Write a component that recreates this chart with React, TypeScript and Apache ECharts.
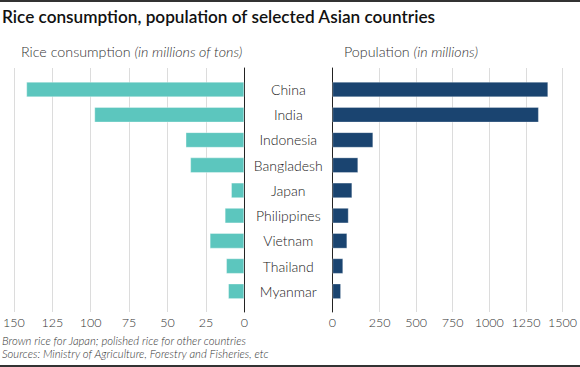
import React, { useEffect, useRef } from "react";
import * as echarts from "echarts";

const countries = ["China", "India", "Indonesia", "Bangladesh", "Japan", "Philippines", "Vietnam", "Thailand", "Myanmar"];
const riceConsumption = [141, 97, 38, 35, 8.6, 12.7, 22.4, 11.8, 10.5];
const population = [1380, 1320, 262, 166, 128, 105, 96, 70, 56];
const riceTickInterval = 25;
const riceMax = 150;
const popTickValues = [250, 500, 750, 1000, 1250, 1500];
const popZeroLabel = [0];
const notes = [
  "Brown rice for Japan; polished rice for other countries",
  "Sources: Ministry of Agriculture, Forestry and Fisheries, etc",
];

const FONT = "Lato, 'Noto Sans', sans-serif";
const TEAL = "#5cc6be";
const NAVY = "#1a4470";

export default function App() {
  const ref = useRef<HTMLDivElement>(null);
  useEffect(() => {
    if (!ref.current) return;
    const chart = echarts.init(ref.current, undefined, { renderer: "svg" });
    const tickLabel = {
      color: "#333",
      fontSize: 12.5,
      fontFamily: FONT,
      fontWeight: 300 as any,
      formatter: (v: number) => String(v),
    };
    const sub = { fontSize: 14.3, fontFamily: FONT, fill: "#333", fontWeight: 300 };
    chart.setOption({
      animation: false,
      backgroundColor: "#fff",
      textStyle: { fontFamily: FONT },
      title: [
        {
          text: "Rice consumption, population of selected Asian countries",
          left: 2,
          top: 8,
          padding: 0,
          textStyle: { fontSize: 17.2, fontWeight: 600, color: "#111", fontFamily: FONT },
        },
      ],
      graphic: [
        { type: "line", shape: { x1: 0, y1: 1, x2: 580, y2: 1 }, style: { stroke: "#333", lineWidth: 2 } },
        { type: "line", shape: { x1: 0, y1: 366, x2: 580, y2: 366 }, style: { stroke: "#333", lineWidth: 2 } },
        {
          type: "text",
          left: 21,
          top: 44,
          style: {
            text: "{n|Rice consumption }{i|(in millions of tons)}",
            rich: { n: sub, i: { ...sub, fontStyle: "italic" } },
          },
        },
        {
          type: "text",
          left: 344,
          top: 44,
          style: {
            text: "{n|Population }{i|(in millions)}",
            rich: { n: sub, i: { ...sub, fontStyle: "italic" } },
          },
        },
        ...notes.map((t, i) => ({
          type: "text",
          left: 2,
          top: 334.5 + i * 13.6,
          style: {
            text: t,
            fontSize: 11.3,
            fontStyle: "italic",
            fontFamily: FONT,
            fill: "#333",
            fontWeight: 300,
          },
        })),
      ],
      grid: [
        { left: 12.3, top: 68, width: 232, height: 244 },
        { left: 12.3, top: 76.9, width: 232, height: 227 },
        { left: 332.3, top: 68, width: 237.7, height: 244 },
        { left: 332.3, top: 76.9, width: 237.7, height: 227 },
      ],
      xAxis: [
        {
          gridIndex: 0,
          type: "value",
          inverse: true,
          min: 0,
          max: riceMax,
          interval: riceTickInterval,
          axisLine: { show: false },
          axisTick: { show: false },
          splitLine: { show: true, lineStyle: { color: "#dcdcdc", width: 1 } },
          axisLabel: { ...tickLabel, margin: 4 },
        },
        { gridIndex: 1, type: "value", inverse: true, min: 0, max: riceMax, show: false },
        {
          gridIndex: 2,
          type: "value",
          min: -72.6,
          max: 1525,
          axisLine: { show: false },
          axisTick: { show: false, customValues: popTickValues },
          splitLine: { show: true, lineStyle: { color: "#dcdcdc", width: 1 } },
          axisLabel: { ...tickLabel, margin: 4, customValues: popTickValues },
        },
        {
          gridIndex: 3,
          type: "value",
          min: 0,
          max: 237.7 / 0.1565,
          axisLine: { show: false },
          axisTick: { show: false },
          splitLine: { show: false },
          axisLabel: { ...tickLabel, margin: 4 + 8.1, customValues: popZeroLabel },
        },
      ],
      yAxis: [
        {
          gridIndex: 0,
          type: "value",
          position: "right",
          min: 0,
          max: 1,
          axisLine: { show: true, onZero: false, lineStyle: { color: "#222", width: 1 } },
          axisTick: { show: false },
          axisLabel: { show: false },
          splitLine: { show: false },
        },
        {
          gridIndex: 1,
          type: "category",
          data: countries,
          inverse: true,
          position: "right",
          axisLine: { show: false },
          axisTick: { show: false },
          axisLabel: { color: "#222", fontSize: 14, fontWeight: 300, fontFamily: FONT, align: "center", margin: 44 },
        },
        {
          gridIndex: 2,
          type: "value",
          position: "left",
          min: 0,
          max: 1,
          axisLine: { show: true, onZero: false, lineStyle: { color: "#222", width: 1 } },
          axisTick: { show: false },
          axisLabel: { show: false },
          splitLine: { show: false },
        },
        {
          gridIndex: 3,
          type: "category",
          data: countries,
          inverse: true,
          axisLine: { show: false },
          axisTick: { show: false },
          axisLabel: { show: false },
        },
      ],
      series: [
        {
          type: "bar",
          name: "Rice consumption",
          xAxisIndex: 1,
          yAxisIndex: 1,
          data: riceConsumption,
          barCategoryGap: "38%",
          itemStyle: { color: TEAL, borderColor: "rgba(255,255,255,0.35)", borderWidth: 1 },
        },
        {
          type: "bar",
          name: "Population",
          xAxisIndex: 3,
          yAxisIndex: 3,
          data: population,
          barCategoryGap: "38%",
          itemStyle: { color: NAVY, borderColor: "rgba(255,255,255,0.3)", borderWidth: 1 },
        },
      ],
    });
    return () => chart.dispose();
  }, []);
  return <div ref={ref} style={{ position: "fixed", left: 0, top: 0, width: 580, height: 367 }} />;
}
